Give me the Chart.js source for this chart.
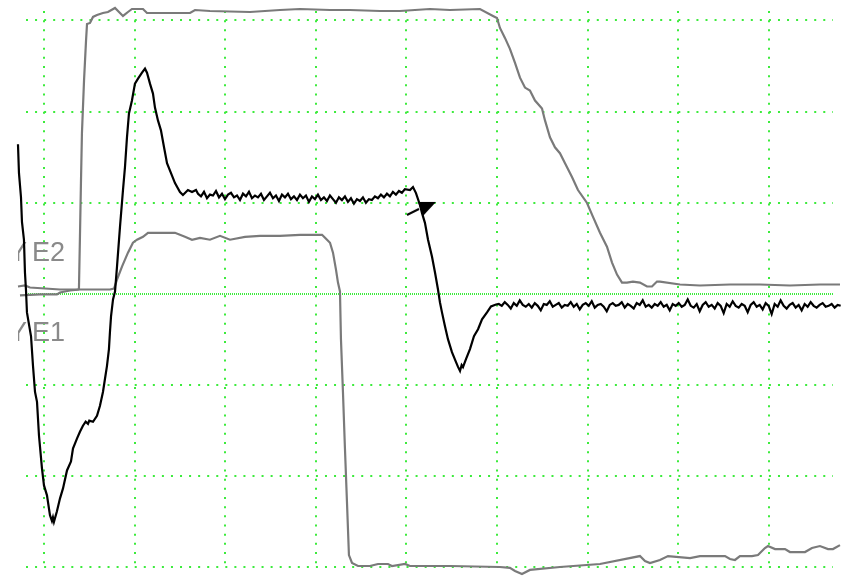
<!DOCTYPE html>
<html>
<head>
<meta charset="utf-8">
<script src="https://cdn.jsdelivr.net/npm/chart.js@4.4.1/dist/chart.umd.min.js"></script>
<style>
  html, body { margin: 0; padding: 0; background: #ffffff; }
  canvas { display: block; }
</style>
</head>
<body>
<canvas id="scope" width="848" height="578"></canvas>
<script>
// ---- Data (time in divisions, amplitude in divisions) ----
const xGridTicks = [0, 1, 2, 3, 4, 5, 6, 7, 8];
const yGridTicks = [-3, -2, -1, 0, 1, 2, 3];
const xRange = [-0.204, 8.709];
const yRange = [-2.995, 3.104];
const channelLabels = ['E2', 'E1'];

// black trace: initial transient
const blackStartX = [-0.287,-0.276,-0.254,-0.243,-0.221,-0.210,-0.199,-0.188,-0.143,-0.121,-0.099,-0.077,-0.055,-0.022,0,0.033,0.066,0.088,0.099,0.110,0.143,0.177,0.210,0.254,0.298,0.320,0.364,0.397,0.430,0.460,0.486,0.500,0.541,0.585,0.618,0.651,0.673,0.695,0.717,0.728,0.740,0.762,0.784,0.806,0.839,0.872,0.894,0.916,0.938,0.971,1.004,1.038,1.082,1.115,1.137,1.170,1.203,1.225,1.258,1.291,1.325,1.358,1.402,1.446,1.501,1.534,1.589,1.634,1.678];
const blackStartY = [1.642,1.325,1.064,0.791,0.595,0.235,0.049,-0.202,-0.464,-0.791,-1.075,-1.184,-1.555,-1.915,-2.100,-2.209,-2.427,-2.490,-2.450,-2.500,-2.384,-2.242,-2.133,-1.936,-1.838,-1.696,-1.587,-1.511,-1.445,-1.400,-1.424,-1.390,-1.402,-1.336,-1.227,-1.075,-0.933,-0.791,-0.605,-0.420,-0.245,-0.060,0.027,0.300,0.736,1.140,1.391,1.718,1.980,2.122,2.307,2.362,2.427,2.471,2.427,2.307,2.198,2.045,1.904,1.795,1.609,1.435,1.325,1.216,1.118,1.085,1.140,1.118,1.140];

// black trace: noisy plateau, sampled record
const blackFlat1Start = 1.70;
const blackSampleStep = 0.0331;
const blackFlat1 = [1.10,1.07,1.12,1.05,1.09,1.08,1.13,1.06,1.10,1.04,1.09,1.11,1.06,1.08,1.03,1.10,1.07,1.12,1.05,1.08,
  1.06,1.10,1.03,1.07,1.11,1.05,1.08,1.02,1.09,1.06,1.10,1.04,1.07,1.03,1.09,1.05,1.08,1.01,1.07,1.04,
  1.09,1.03,1.06,1.02,1.08,1.04,1.00,1.06,1.03,1.07,1.01,1.05,0.99,1.04,1.02,1.06,1.00,1.04,1.03,1.07,
  1.05,1.09,1.06,1.10,1.07,1.12,1.09,1.13,1.11,1.15];

// black trace: second transient
const blackFallX = [4.040,4.073,4.106,4.150,4.172,4.205,4.239,4.283,4.316,4.349,4.371,4.393,4.426,4.459,4.503,4.548,4.570,4.592,4.610,4.625,4.658,4.702,4.746,4.791,4.835,4.890,4.934,4.989];
const blackFallY = [1.140,1.173,1.107,0.976,0.889,0.780,0.595,0.409,0.235,0.049,-0.093,-0.202,-0.355,-0.496,-0.638,-0.747,-0.800,-0.845,-0.780,-0.802,-0.715,-0.605,-0.464,-0.387,-0.278,-0.202,-0.136,-0.115];

// black trace: noisy tail, sampled record
const blackFlat2Start = 5.02;
const blackFlat2 = [-0.11,-0.13,-0.09,-0.12,-0.16,-0.10,-0.13,-0.07,-0.12,-0.14,-0.11,-0.15,-0.10,-0.13,-0.18,-0.11,-0.12,-0.08,-0.14,-0.12,
  -0.10,-0.15,-0.12,-0.13,-0.09,-0.14,-0.11,-0.17,-0.12,-0.10,-0.13,-0.08,-0.15,-0.12,-0.11,-0.14,-0.19,-0.12,-0.10,-0.13,
  -0.12,-0.09,-0.15,-0.11,-0.13,-0.16,-0.10,-0.12,-0.07,-0.14,-0.12,-0.15,-0.11,-0.13,-0.09,-0.14,-0.12,-0.18,-0.11,-0.13,
  -0.10,-0.14,-0.12,-0.06,-0.13,-0.15,-0.11,-0.19,-0.12,-0.09,-0.14,-0.12,-0.16,-0.10,-0.13,-0.21,-0.11,-0.14,-0.08,-0.13,
  -0.15,-0.11,-0.13,-0.20,-0.12,-0.09,-0.14,-0.12,-0.17,-0.10,-0.13,-0.22,-0.11,-0.14,-0.07,-0.13,-0.16,-0.12,-0.10,-0.15,
  -0.12,-0.18,-0.11,-0.14,-0.09,-0.13,-0.15,-0.12,-0.10,-0.14,-0.13,-0.11,-0.15,-0.12,-0.13];

// gray trace E2
const e2X = [-0.287,-0.210,-0.155,0.011,0.177,0.375,0.386,0.397,0.408,0.419,0.442,0.464,0.475,0.508,0.541,0.585,0.651,0.706,0.784,0.828,0.872,0.927,0.971,1.093,1.137,1.612,1.667,1.832,2.274,2.605,2.826,3.157,3.377,3.709,3.929,4.260,4.481,4.812,4.956,5.000,5.033,5.088,5.143,5.199,5.254,5.309,5.364,5.420,5.497,5.530,5.585,5.640,5.695,5.751,5.828,5.894,5.994,6.060,6.137,6.214,6.270,6.325,6.380,6.435,6.501,6.578,6.656,6.711,6.766,6.799,7.020,7.241,7.572,7.903,8.234,8.565,8.786];
const e2Y = [0.082,0.093,0.071,0.060,0.049,0.049,0.060,0.627,1.216,1.762,2.340,2.776,2.962,2.973,3.039,3.060,3.082,3.093,3.137,3.093,3.050,3.093,3.126,3.126,3.082,3.082,3.115,3.104,3.093,3.115,3.126,3.115,3.115,3.104,3.104,3.126,3.115,3.126,3.050,3.028,2.918,2.809,2.689,2.536,2.373,2.264,2.231,2.122,2.035,1.904,1.718,1.609,1.544,1.435,1.282,1.140,0.998,0.845,0.671,0.518,0.344,0.213,0.125,0.125,0.136,0.125,0.082,0.082,0.136,0.136,0.104,0.093,0.104,0.104,0.093,0.104,0.104];

// gray trace E1
const e1X = [-0.265,-0.044,0.143,0.177,0.287,0.397,0.728,0.773,0.806,0.861,0.927,0.982,1.027,1.093,1.148,1.336,1.446,1.556,1.634,1.722,1.832,1.943,2.053,2.219,2.384,2.605,2.826,3.069,3.102,3.157,3.190,3.223,3.245,3.267,3.278,3.300,3.322,3.344,3.366,3.400,3.466,3.598,3.687,3.797,3.841,3.985,4.040,4.481,5.033,5.143,5.199,5.276,5.364,5.695,6.137,6.578,6.634,6.689,6.799,6.888,7.131,7.241,7.517,7.572,7.627,7.682,7.815,7.881,7.958,7.991,8.069,8.179,8.234,8.400,8.477,8.565,8.654,8.709,8.786];
const e1Y = [-0.016,-0.005,-0.005,0.016,0.038,0.049,0.049,0.060,0.158,0.300,0.453,0.562,0.595,0.627,0.671,0.671,0.671,0.627,0.595,0.616,0.595,0.638,0.595,0.627,0.638,0.638,0.649,0.649,0.616,0.562,0.453,0.267,0.125,0.027,-0.496,-1.075,-1.696,-2.274,-2.864,-2.951,-2.984,-2.984,-2.962,-2.962,-2.984,-2.962,-2.984,-2.984,-2.995,-3.005,-3.038,-3.071,-3.027,-2.995,-2.962,-2.875,-2.929,-2.951,-2.918,-2.875,-2.897,-2.875,-2.875,-2.907,-2.918,-2.875,-2.875,-2.864,-2.787,-2.765,-2.798,-2.798,-2.831,-2.831,-2.787,-2.765,-2.798,-2.798,-2.755];

// trigger marker position
const markerX = [4.161];
const markerY = [0.933];

// ---- Build point lists ----
const pairs = (xs, ys) => xs.map((x, i) => ({ x: x, y: ys[i] }));
const sampled = (start, step, ys) => ys.map((y, i) => ({ x: +(start + i * step).toFixed(4), y: y }));

const blackPoints = [].concat(
  pairs(blackStartX, blackStartY),
  sampled(blackFlat1Start, blackSampleStep, blackFlat1),
  pairs(blackFallX, blackFallY),
  sampled(blackFlat2Start, blackSampleStep, blackFlat2)
);

function makeArrow() {
  const c = document.createElement('canvas');
  c.width = 32; c.height = 18;
  const g = c.getContext('2d');
  g.fillStyle = '#000';
  g.beginPath(); g.moveTo(13, 2); g.lineTo(31, 2); g.lineTo(18, 16); g.closePath(); g.fill();
  g.strokeStyle = '#000'; g.lineWidth = 2;
  g.beginPath(); g.moveTo(2, 15); g.lineTo(14, 9); g.stroke();
  return c;
}

const labelPlugin = {
  id: 'channelLabels',
  beforeDatasetsDraw(chart) {
    const ctx = chart.ctx;
    const area = chart.chartArea;
    const y0 = chart.scales.y.getPixelForValue(0);
    ctx.save();
    ctx.beginPath();
    ctx.rect(18, 0, chart.width - 18, chart.height);
    ctx.clip();
    ctx.fillStyle = '#8a8a8a';
    ctx.font = '27px "Liberation Sans", Arial, sans-serif';
    ctx.textBaseline = 'alphabetic';
    const baselines = [y0 - 32.5, y0 + 47.5];
    channelLabels.forEach((t, i) => {
      ctx.textAlign = 'right';
      ctx.fillText('Y', area.left + 1.5, baselines[i]);
      ctx.textAlign = 'left';
      ctx.fillText(t, area.left + 6.5, baselines[i]);
    });
    ctx.restore();
  }
};

const isZero = ctx => !!(ctx.tick && ctx.tick.value === 0);

new Chart(document.getElementById('scope'), {
  type: 'line',
  data: {
    datasets: [
      {
        label: 'trigger',
        data: pairs(markerX, markerY),
        showLine: false,
        pointStyle: makeArrow(),
        pointRadius: 10,
        clip: false
      },
      {
        label: 'signal',
        data: blackPoints,
        borderColor: '#000000',
        borderWidth: 2.2,
        pointRadius: 0,
        tension: 0,
        clip: false
      },
      {
        label: 'E2',
        data: pairs(e2X, e2Y),
        borderColor: '#7a7a7a',
        borderWidth: 2.2,
        pointRadius: 0,
        tension: 0,
        clip: false
      },
      {
        label: 'E1',
        data: pairs(e1X, e1Y),
        borderColor: '#7a7a7a',
        borderWidth: 2.2,
        pointRadius: 0,
        tension: 0,
        clip: false
      }
    ]
  },
  options: {
    responsive: false,
    devicePixelRatio: 1,
    animation: false,
    events: [],
    layout: { padding: { left: 25.5, right: 15, top: 10, bottom: 9 } },
    plugins: { legend: { display: false }, tooltip: { enabled: false } },
    scales: {
      x: {
        type: 'linear',
        bounds: 'data',
        afterDataLimits: s => { s.min = xRange[0]; s.max = xRange[1]; },
        afterBuildTicks: s => { s.ticks = xGridTicks.map(v => ({ value: v })); },
        ticks: { display: false },
        grid: { color: 'rgb(60,235,60)', lineWidth: 2, drawTicks: false },
        border: { display: false, dash: [2, 7.17] }
      },
      y: {
        type: 'linear',
        bounds: 'data',
        afterDataLimits: s => { s.min = yRange[0]; s.max = yRange[1]; },
        afterBuildTicks: s => { s.ticks = yGridTicks.map(v => ({ value: v })); },
        ticks: { display: false },
        grid: {
          color: 'rgb(60,235,60)',
          lineWidth: 2,
          drawTicks: false
        },
        border: { display: false, dash: ctx => isZero(ctx) ? [1, 1] : [2, 7.06] }
      }
    }
  },
  plugins: [labelPlugin]
});
</script>
</body>
</html>
